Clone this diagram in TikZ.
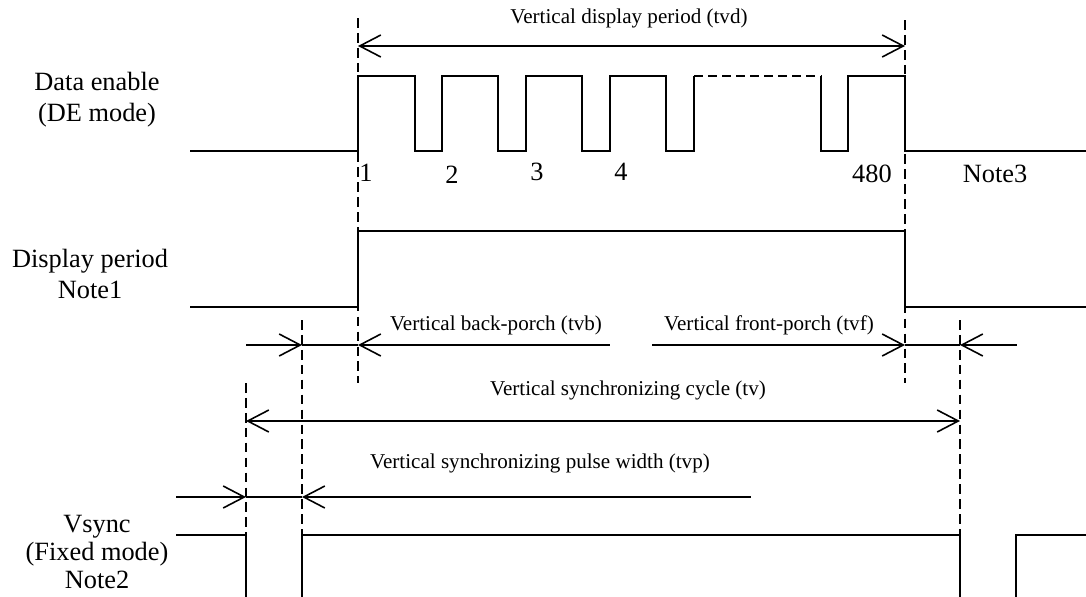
\documentclass[tikz,border=0pt]{standalone}
\usepackage{fontspec}
\setmainfont{Liberation Serif}
\usetikzlibrary{arrows.meta,calc}
\tikzset{
  wave/.style = {line width=0.9pt, line join=miter},
  guide/.style = {line width=0.8pt, dash pattern=on 5.5pt off 3pt},
  dim/.style = {line width=0.9pt},
  barb/.tip = {Straight Barb[length=12pt,width=12.5pt,line width=0.9pt]},
  sig/.style = {align=center, inner sep=0pt, font=\fontsize{15}{17.6}\selectfont},
  lbl/.style = {inner sep=0pt, font=\fontsize{12}{14}\selectfont},
  num/.style = {inner sep=0pt, font=\fontsize{15}{17}\selectfont}
}

\begin{document}
\begin{tikzpicture}[x=0.02cm, y=-0.02cm]
	\useasboundingbox (0,0) rectangle (1086,596);
	% time marks
	\coordinate (tA) at (246,0);
	\coordinate (tB) at (302,0);
	\coordinate (tC) at (358,0);
	\coordinate (tD) at (905,0);
	\coordinate (tE) at (960,0);
	\coordinate (tF) at (1016,0);

	% signal names
	\node [sig] (de) at (97,100) {Data enable\\(DE mode)};
	\node [sig] (dp) at (90,274) {Display period\\Note1};
	\node [sig, font=\fontsize{15}{16}\selectfont] (vs) at (97,552) {Vsync\\(Fixed mode)\\Note2};

	% guides
	\draw [guide] (tC |- 0,18) -- (tC |- 0,383);
	\draw [guide] (tD |- 0,20) -- (tD |- 0,383);
	\draw [guide] (tB |- 0,320) -- (tB |- 0,535);
	\draw [guide] (tE |- 0,320) -- (tE |- 0,535);
	\draw [guide] (tA |- 0,383) -- (tA |- 0,535);

	% data enable
	\draw [wave] (190,151) -- (358,151) -- (358,76) -- (415,76) -- (415,151) -- (442,151)
		-- (442,76) -- (498,76) -- (498,151) -- (526,151) -- (526,76) -- (582,76) -- (582,151)
		-- (610,151) -- (610,76) -- (666,76) -- (666,151) -- (694,151) -- (694,76);
	\draw [wave, dash pattern=on 5pt off 3pt] (694,76) -- (821,76);
	\draw [wave] (821,76) -- (821,151) -- (848,151) -- (848,76) -- (905,76) -- (905,151) -- (1086,151);
	\node [num] (n1) at (366,173) {1};
	\node [num] (n2) at (452,175) {2};
	\node [num] (n3) at (537,172) {3};
	\node [num] (n4) at (621,172) {4};
	\node [num] (n480) at (872,174) {480};
	\node [num] (note3) at (995,174) {Note3};

	% display period
	\draw [wave] (190,307) -- (358,307) -- (358,231) -- (905,231) -- (905,307) -- (1086,307);

	% vsync
	\draw [wave] (176,535) -- (246,535) -- (246,600);
	\draw [wave] (302,600) -- (302,535) -- (960,535) -- (960,600);
	\draw [wave] (1016,600) -- (1016,535) -- (1086,535);

	% periods
	\coordinate (tvdL) at (tC |- 0,46);
	\coordinate (tvdR) at (tD |- 0,46);
	\draw [dim, barb-barb] (tvdL) -- (tvdR);
	\node [lbl] (tvd) at (629,18) {Vertical display period (tvd)};

	\coordinate (tvbS) at (246,345);
	\coordinate (tvbA) at (tB |- tvbS);
	\coordinate (tvbB) at (tC |- tvbS);
	\coordinate (tvbE) at (610,345);
	\draw [dim, -barb] (tvbS) -- (tvbA);
	\draw [dim] (tvbA) -- (tvbB);
	\draw [dim, barb-] (tvbB) -- (tvbE);
	\node [lbl] (tvb) at (496,325) {Vertical back-porch (tvb)};

	\coordinate (tvfS) at (652,345);
	\coordinate (tvfA) at (tD |- tvfS);
	\coordinate (tvfB) at (tE |- tvfS);
	\coordinate (tvfE) at (1017,345);
	\draw [dim, -barb] (tvfS) -- (tvfA);
	\draw [dim] (tvfA) -- (tvfB);
	\draw [dim, barb-] (tvfB) -- (tvfE);
	\node [lbl] (tvf) at (769,325) {Vertical front-porch (tvf)};

	\coordinate (tvL) at (tA |- 0,421);
	\coordinate (tvR) at (tE |- 0,421);
	\draw [dim, barb-barb] (tvL) -- (tvR);
	\node [lbl] (tv) at (628,390) {Vertical synchronizing cycle (tv)};

	\coordinate (tvpS) at (176,497);
	\coordinate (tvpA) at (tA |- tvpS);
	\coordinate (tvpB) at (tB |- tvpS);
	\coordinate (tvpE) at (751,497);
	\draw [dim, -barb] (tvpS) -- (tvpA);
	\draw [dim] (tvpA) -- (tvpB);
	\draw [dim, barb-] (tvpB) -- (tvpE);
	\node [lbl] (tvp) at (540,463) {Vertical synchronizing pulse width (tvp)};
\end{tikzpicture}
\end{document}
